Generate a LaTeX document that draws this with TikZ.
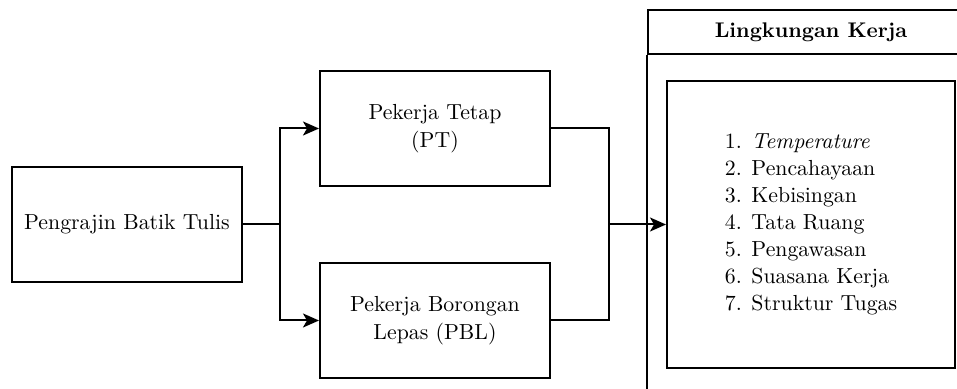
\documentclass[tikz,border=0pt]{standalone}
\usetikzlibrary{positioning,arrows.meta}

\begin{document}
\begin{tikzpicture}[line width=1pt, >={Stealth[length=8pt,width=7pt,inset=2pt]}, every node/.style={draw, align=center, font=\fontsize{10.9}{14}\selectfont, minimum width=115pt, minimum height=57.5pt}]
\useasboundingbox (-63.5pt,-82.25pt) rectangle (415pt,112.25pt);
\node (src) {Pengrajin Batik Tulis};
\node (pt) [right=38pt of src, yshift=48pt] {Pekerja Tetap\\(PT)};
\node (pbl) [right=38pt of src, yshift=-48pt] {Pekerja Borongan\\Lepas (PBL)};
\coordinate (join) at ([xshift=29pt]pt.east |- src.east);
\node (list) [right=28.5pt of join, minimum width=144pt, minimum height=143.5pt, align=left, font=\fontsize{10.9}{13.5}\selectfont] {1. \textit{Temperature}\\2. Pencahayaan\\3. Kebisingan\\4. Tata Ruang\\5. Pengawasan\\6. Suasana Kerja\\7. Struktur Tugas};
\node (hdr) [anchor=south west, minimum width=163pt, minimum height=22pt, font=\fontsize{10.6}{14}\bfseries] at ([xshift=-9.5pt,yshift=12.5pt]list.north west) {Lingkungan Kerja};
\draw (hdr.south west) -- ++(0,-180pt) -| (hdr.south east);
\draw[->] (src.east) -- ++(18.5pt,0) |- (pt.west);
\draw[->] (src.east) -- ++(18.5pt,0) |- (pbl.west);
\draw (pt.east) -| (join) |- (pbl.east);
\draw[->] (join) -- (list.west);
\end{tikzpicture}
\end{document}
